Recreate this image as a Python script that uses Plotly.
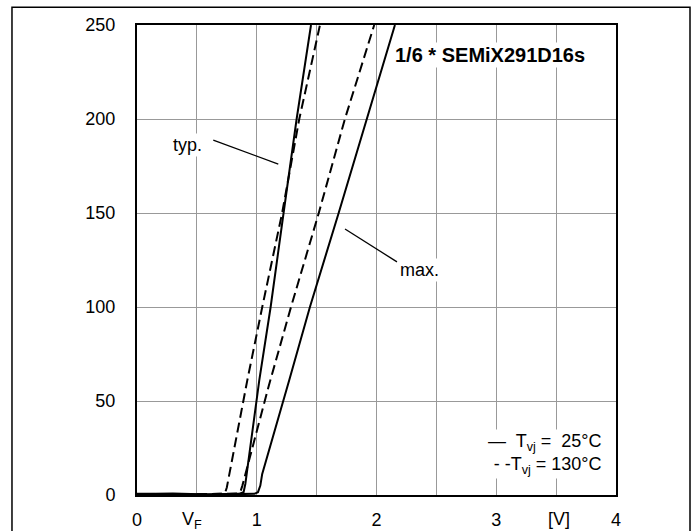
import plotly.graph_objects as go

# Forward characteristic of the inverse diode, 1/6 * SEMiX291D16s
v_typ25 = [0.0, 0.3, 0.6, 0.85, 0.89, 0.905, 1.021, 1.116, 1.224, 1.333, 1.453]
i_typ25 = [0.5, 0.8, 0.3, 0.6, 1.5, 6, 61, 100, 150, 200, 250]

v_typ130 = [0.0, 0.4, 0.7, 0.735, 0.75, 0.921, 1.046, 1.212, 1.355, 1.528]
i_typ130 = [0.5, 0.3, 0.6, 1.0, 4, 61, 100, 150, 200, 250]

v_max25 = [0.0, 0.5, 0.98, 1.01, 1.03, 1.045, 1.271, 1.444, 1.684, 1.917, 2.154]
i_max25 = [0.6, 0.2, 0.6, 1.5, 5, 11, 61, 100, 150, 200, 250]

v_max130 = [0.0, 0.5, 0.84, 0.865, 0.88, 1.10, 1.286, 1.518, 1.736, 1.981]
i_max130 = [0.5, 0.3, 0.8, 2, 5, 58, 100, 150, 200, 250]

x_tickvals = [0, 1, 2, 3, 4]
x_ticktext = ["0", "1", "2", "3", "4"]
y_tickvals = [0, 50, 100, 150, 200, 250]
y_ticktext = ["0", "50", "100", "150", "200", "250"]

FONT = "Liberation Sans, Arial, sans-serif"
FS = 18
solid = dict(color="black", width=2)
dashed = dict(color="black", width=2, dash="10px,5px")

fig = go.Figure()
fig.add_trace(go.Scatter(x=v_typ25, y=i_typ25, mode="lines", line=solid))
fig.add_trace(go.Scatter(x=v_max25, y=i_max25, mode="lines", line=solid))
fig.add_trace(go.Scatter(x=v_typ130, y=i_typ130, mode="lines", line=dashed))
fig.add_trace(go.Scatter(x=v_max130, y=i_max130, mode="lines", line=dashed))

fig.update_layout(
    width=697, height=531,
    margin=dict(l=137, r=81, t=25, b=36, autoexpand=False),
    paper_bgcolor="white", plot_bgcolor="white",
    showlegend=False,
    font=dict(family=FONT, size=FS, color="black"),
    xaxis=dict(range=[0, 4], tickvals=x_tickvals, ticktext=x_ticktext,
               showgrid=True, gridcolor="#999999", gridwidth=1, automargin=False,
               minor=dict(dtick=0.5, tick0=0, showgrid=True, gridcolor="#999999", gridwidth=1),
               showline=True, linecolor="black", linewidth=2, mirror=True,
               zeroline=False, ticks="outside", ticklen=7, tickcolor="white"),
    yaxis=dict(range=[0, 250], tickvals=y_tickvals, ticktext=y_ticktext,
               showgrid=True, gridcolor="#999999", gridwidth=1, automargin=False,
               showline=True, linecolor="black", linewidth=2, mirror=True,
               zeroline=False, ticks="outside", ticklen=16, tickcolor="white"),
)

# Outer frame
fig.add_shape(type="rect", xref="paper", yref="paper",
              x0=-0.261, x1=1.1545, y0=-0.2, y1=1.038,
              line=dict(color="black", width=1.5), layer="below")

# Pointer lines
fig.add_shape(type="line", x0=0.637, y0=188.8, x1=1.18, y1=176,
              line=dict(color="black", width=1.3))
fig.add_shape(type="line", x0=1.737, y0=141.5, x1=2.171, y1=124,
              line=dict(color="black", width=1.3))

def label(x, y, text, size=FS, **kw):
    d = dict(x=x, y=y, text=text, showarrow=False, bgcolor="white",
             font=dict(family=FONT, size=size, color="black"))
    d.update(kw)
    fig.add_annotation(**d)

label(0.418, 186, "typ.")
label(2.363, 119.7, "max.")
label(2.944, 234, "<b>1/6 * SEMiX291D16s</b>", size=20)
label(3.9, 22, "—  T<sub>vj</sub> =  25°C<br>- -T<sub>vj</sub> = 130°C", xanchor="right", align="right")

# Axis unit labels
fig.add_annotation(x=-0.165, y=225, text="[A]", showarrow=False,
                   xanchor="right", font=dict(family=FONT, size=FS))
fig.add_annotation(x=-0.165, y=24, text="I<sub>F</sub>", showarrow=False,
                   xanchor="right", font=dict(family=FONT, size=FS))
fig.add_annotation(x=0.46, y=-0.025, yref="paper", text="V<sub>F</sub>", showarrow=False,
                   yanchor="top", font=dict(family=FONT, size=FS))
fig.add_annotation(x=3.52, y=-0.025, yref="paper", text="[V]", showarrow=False,
                   yanchor="top", font=dict(family=FONT, size=FS))

fig.write_html("out.html", config={"displayModeBar": False},
               post_script="document.body.style.margin='0';")
